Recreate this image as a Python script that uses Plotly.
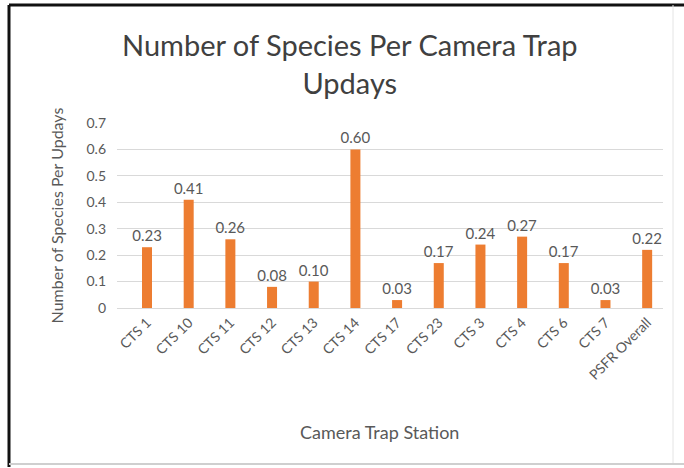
import plotly.graph_objects as go

# Species per camera-trap updays by station
stations = ["CTS 1", "CTS 10", "CTS 11", "CTS 12", "CTS 13", "CTS 14", "CTS 17",
            "CTS 23", "CTS 3", "CTS 4", "CTS 6", "CTS 7", "PSFR Overall"]
species_per_updays = [0.23, 0.41, 0.26, 0.08, 0.10, 0.60, 0.03,
                      0.17, 0.24, 0.27, 0.17, 0.03, 0.22]
y_ticks = [0, 0.1, 0.2, 0.3, 0.4, 0.5, 0.6, 0.7]
y_tick_labels = ["0", "0.1", "0.2", "0.3", "0.4", "0.5", "0.6", "0.7"]

W, H = 684, 468
L, R, T, B = 117, 21, 123, 160
FONT = "Lato, Open Sans, sans-serif"
GRAY = "#595959"


def px_x(px):
    return (px - L) / (W - L - R)


def px_y(py):
    return 1 - (py - T) / (H - T - B)


fig = go.Figure(
    go.Bar(
        x=stations,
        y=species_per_updays,
        marker=dict(color="#ED7D31", line=dict(width=0)),
        text=[f"{v:.2f}" for v in species_per_updays],
        textposition="outside",
        constraintext="none",
        textfont=dict(family=FONT, size=15, color=GRAY),
        cliponaxis=False,
    )
)

fig.update_layout(
    width=W,
    height=H,
    margin=dict(l=L, r=R, t=T, b=B),
    paper_bgcolor="white",
    plot_bgcolor="white",
    bargap=0.76,
    showlegend=False,
    font=dict(family=FONT, color=GRAY),
    annotations=[
        dict(text="Number of Species Per Camera Trap<br>Updays",
             xref="paper", yref="paper", x=px_x(350), y=px_y(63),
             xanchor="center", yanchor="middle", showarrow=False,
             font=dict(family=FONT, size=29, color="#404040")),
        dict(text="Camera Trap Station",
             xref="paper", yref="paper", x=px_x(379), y=px_y(432),
             xanchor="center", yanchor="middle", showarrow=False,
             font=dict(family=FONT, size=18, color=GRAY)),
    ],
    shapes=[
        # frame: dark left/top edges, light right/bottom edges
        dict(type="line", xref="paper", yref="paper",
             x0=px_x(9), x1=px_x(9), y0=px_y(5), y1=px_y(467),
             line=dict(color="#111111", width=3)),
        dict(type="line", xref="paper", yref="paper",
             x0=px_x(9), x1=px_x(684), y0=px_y(5), y1=px_y(5),
             line=dict(color="#111111", width=3)),
        dict(type="line", xref="paper", yref="paper",
             x0=px_x(673), x1=px_x(673), y0=px_y(5), y1=px_y(464),
             line=dict(color="#e4e4e4", width=1)),
        dict(type="line", xref="paper", yref="paper",
             x0=px_x(9), x1=px_x(684), y0=px_y(464), y1=px_y(464),
             line=dict(color="#cfcfcf", width=2)),
    ],
)

fig.update_xaxes(
    range=[-0.72, 12.38],
    tickangle=-45,
    tickfont=dict(family=FONT, size=14, color=GRAY),
    showgrid=False,
    showline=True,
    linecolor="#d9d9d9",
    ticks="",
)

fig.update_yaxes(
    range=[0, 0.7],
    tickvals=y_ticks,
    ticktext=y_tick_labels,
    tickfont=dict(family=FONT, size=14, color=GRAY),
    ticklabelstandoff=10,
    showgrid=True,
    gridcolor="#d9d9d9",
    zeroline=False,
    ticks="",
    title=dict(text="Number of Species Per Updays",
               font=dict(family=FONT, size=16, color=GRAY), standoff=18),
)

fig.write_html("out.html")
